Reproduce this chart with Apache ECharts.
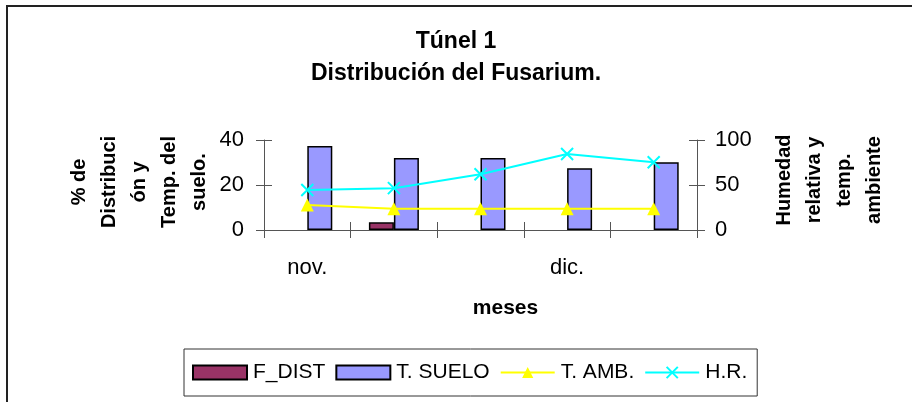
<!DOCTYPE html>
<html>
<head>
<meta charset="utf-8">
<script src="https://cdn.jsdelivr.net/npm/echarts@6/dist/echarts.min.js"></script>
<style>
  html, body { margin: 0; padding: 0; background: #fff; }
  #chart { width: 912px; height: 402px; }
</style>
</head>
<body>
<div id="chart"></div>
<script>
// Weekly readings, tunnel 1
const categories = ['nov.', 'nov.', 'nov.', 'dic.', 'dic.'];
const fDist = [0, 3.4, 0, 0, 0];            // % distribution of Fusarium
const tSuelo = [37.3, 32, 32, 27.5, 30.1];  // soil temperature
const tAmb = [27.8, 23.5, 23.5, 23.5, 23.5]; // ambient temperature
const hR = [44.5, 46.5, 62, 84.5, 75.2];    // relative humidity
const leftTicks = { min: 0, max: 40, interval: 20 };
const rightTicks = { min: 0, max: 100, interval: 50 };
const leftTitle = '% de\nDistribuci\nón y\nTemp. del\nsuelo.';
const rightTitle = 'Humedad\nrelativa y\ntemp.\nambiente';

const FONT = 'Liberation Sans, Arial, sans-serif';
const AXIS_COLOR = '#555';

const chart = echarts.init(document.getElementById('chart'), null, { renderer: 'canvas' });

const crossTick = (inside) => ({
  show: true, inside: inside, length: 8,
  lineStyle: { color: AXIS_COLOR, width: 1 }
});

// Empty weeks are left blank instead of drawn as flat bars
const blankZero = (arr) => arr.map(v => (v === 0 ? '-' : v));

// Rotated, centred multi-line axis title
const axisTitle = (text, x, y) => ({
  type: 'text',
  x: x, y: y,
  rotation: Math.PI / 2,
  silent: true,
  style: {
    text: text,
    fill: '#000',
    font: 'bold 20px ' + FONT,
    lineHeight: 30,
    align: 'center',
    verticalAlign: 'middle'
  }
});

const option = {
  backgroundColor: '#fff',
  animation: false,
  textStyle: { fontFamily: FONT, color: '#000' },
  title: {
    text: 'Túnel 1\nDistribución del Fusarium.',
    left: 'center',
    top: 26,
    padding: [0, 0, 0, 20],
    textStyle: { fontFamily: FONT, fontSize: 23, fontWeight: 'bold', lineHeight: 32, color: '#000' }
  },
  graphic: [{
    type: 'rect',
    shape: { x: 7, y: 6, width: 1000, height: 1000 },
    style: { fill: 'none', stroke: '#222', lineWidth: 2 },
    silent: true
  },
  axisTitle(leftTitle, 139, 182),
  axisTitle(rightTitle, 829, 180)
  ],
  legend: {
    left: 184, top: 349,
    padding: [13, 10, 13, 8],
    borderColor: '#333', borderWidth: 1,
    itemWidth: 54, itemHeight: 14, itemGap: 10,
    textStyle: { fontFamily: FONT, fontSize: 21, color: '#000', padding: [0, 0, 0, 1] },
    data: [
      { name: 'F_DIST', icon: 'rect' },
      { name: 'T. SUELO', icon: 'rect' },
      'T. AMB.',
      'H.R.'
    ]
  },
  grid: { left: 264, right: 215, top: 140, bottom: 172 },
  xAxis: [{
    type: 'category',
    data: categories,
    boundaryGap: true,
    name: 'meses',
    nameLocation: 'middle',
    nameGap: 68,
    nameTextStyle: { fontFamily: FONT, fontSize: 21, fontWeight: 'bold', color: '#000', padding: [0, 0, 0, 50] },
    axisLine: { lineStyle: { color: AXIS_COLOR, width: 1 } },
    axisTick: Object.assign(crossTick(false), { interval: 0 }),
    axisLabel: { interval: 2, fontSize: 22, color: '#000', margin: 27 },
    splitLine: { show: false }
  }, {
    type: 'category',
    data: categories,
    position: 'bottom',
    axisLine: { show: false },
    axisTick: Object.assign(crossTick(true), { interval: 0 }),
    axisLabel: { show: false },
    splitLine: { show: false }
  }],
  yAxis: [{
    type: 'value',
    position: 'left',
    min: leftTicks.min, max: leftTicks.max, interval: leftTicks.interval,
    axisLine: { show: true, lineStyle: { color: AXIS_COLOR, width: 1 } },
    axisTick: crossTick(false),
    axisLabel: { fontSize: 22, color: '#000', margin: 20 },
    splitLine: { show: false }
  }, {
    type: 'value',
    position: 'right',
    min: rightTicks.min, max: rightTicks.max, interval: rightTicks.interval,
    axisLine: { show: true, lineStyle: { color: AXIS_COLOR, width: 1 } },
    axisTick: crossTick(false),
    axisLabel: { fontSize: 22, color: '#000', margin: 18 },
    splitLine: { show: false }
  }, {
    type: 'value', position: 'left',
    min: leftTicks.min, max: leftTicks.max, interval: leftTicks.interval,
    axisLine: { show: false }, axisTick: crossTick(true),
    axisLabel: { show: false }, splitLine: { show: false }
  }, {
    type: 'value', position: 'right',
    min: rightTicks.min, max: rightTicks.max, interval: rightTicks.interval,
    axisLine: { show: false }, axisTick: crossTick(true),
    axisLabel: { show: false }, splitLine: { show: false }
  }],
  series: [{
    name: 'F_DIST',
    type: 'bar',
    yAxisIndex: 0,
    data: blankZero(fDist),
    barWidth: 25,
    barGap: '0%',
    itemStyle: { color: '#993366', borderColor: '#000', borderWidth: 1.5 }
  }, {
    name: 'T. SUELO',
    type: 'bar',
    yAxisIndex: 0,
    data: tSuelo,
    barWidth: 25,
    barGap: '0%',
    itemStyle: { color: '#9999FF', borderColor: '#000', borderWidth: 1.5 }
  }, {
    name: 'T. AMB.',
    type: 'line',
    yAxisIndex: 1,
    data: tAmb,
    symbol: 'triangle',
    symbolSize: 13,
    lineStyle: { color: '#FFFF00', width: 2 },
    itemStyle: { color: '#FFFF00' }
  }, {
    name: 'H.R.',
    type: 'line',
    yAxisIndex: 1,
    data: hR,
    symbol: 'path://M0 0L10 10M10 0L0 10',
    symbolSize: 12,
    lineStyle: { color: '#00FFFF', width: 2 },
    itemStyle: { color: '#00FFFF', borderColor: '#00FFFF', borderWidth: 2 }
  }]
};

chart.setOption(option);
</script>
</body>
</html>
